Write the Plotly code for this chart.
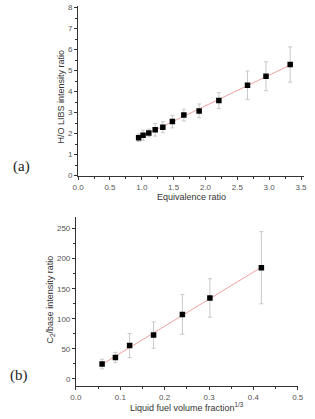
import numpy as np
import plotly.graph_objects as go

# Panel (a)
eq_ratio = [0.95, 1.02, 1.11, 1.21, 1.33, 1.48, 1.66, 1.90, 2.21, 2.66, 2.95, 3.33]
ho_ratio = [1.80, 1.92, 2.03, 2.18, 2.30, 2.57, 2.88, 3.08, 3.57, 4.30, 4.73, 5.29]
ho_err = [0.18, 0.24, 0.18, 0.30, 0.26, 0.30, 0.28, 0.33, 0.38, 0.68, 0.69, 0.84]

# Panel (b)
fuel_frac = [0.059, 0.089, 0.121, 0.175, 0.240, 0.302, 0.418]
c2_ratio = [24.6, 35.6, 55.3, 72.8, 107.2, 134.6, 184.9]
c2_err = [8, 8.5, 20, 22, 33, 32, 60]

W, H = 315, 419

fig = go.Figure()

# (a)
ka = np.polyfit(eq_ratio, ho_ratio, 1)
xa = np.array([min(eq_ratio), max(eq_ratio)])
fig.add_trace(go.Scatter(x=xa, y=np.polyval(ka, xa), mode="lines",
                         line=dict(color="#f0a0a0", width=1), xaxis="x", yaxis="y", showlegend=False))
fig.add_trace(go.Scatter(x=eq_ratio, y=ho_ratio, mode="markers",
                         marker=dict(symbol="square", size=5.5, color="black"),
                         error_y=dict(type="data", array=ho_err, color="#c8c8c8", thickness=1, width=2),
                         xaxis="x", yaxis="y", showlegend=False))

# (b)
kb = np.polyfit(fuel_frac, c2_ratio, 1)
xb = np.array([min(fuel_frac), max(fuel_frac)])
fig.add_trace(go.Scatter(x=xb, y=np.polyval(kb, xb), mode="lines",
                         line=dict(color="#f0a0a0", width=1), xaxis="x2", yaxis="y2", showlegend=False))
fig.add_trace(go.Scatter(x=fuel_frac, y=c2_ratio, mode="markers",
                         marker=dict(symbol="square", size=5.5, color="black"),
                         error_y=dict(type="data", array=c2_err, color="#c8c8c8", thickness=1, width=2),
                         xaxis="x2", yaxis="y2", showlegend=False))

tickfont = dict(family="Arial, Liberation Sans", size=8, color="#555")
axcommon = dict(showline=True, linecolor="#333", linewidth=1, ticks="outside", ticklen=3,
                tickcolor="#333", showgrid=False, zeroline=False, tickfont=tickfont,
                minor=dict(ticks="outside", ticklen=2, tickcolor="#333"))

fig.update_layout(
    width=W, height=H, margin=dict(l=0, r=0, t=0, b=0),
    plot_bgcolor="white", paper_bgcolor="white",
    xaxis=dict(domain=[75 / W, 310 / W], range=[0, 3.55], dtick=0.5, tickformat=".1f",
               anchor="y", minor_dtick=0.25, **axcommon),
    yaxis=dict(domain=[1 - 176.7 / H, 1 - 4 / H], range=[-0.03, 8.08], dtick=1,
               anchor="x", minor_dtick=0.5, **axcommon),
    xaxis2=dict(domain=[72.7 / W, 303.3 / W], range=[0, 0.5], dtick=0.1, tickformat=".1f",
                anchor="y2", minor_dtick=0.05, **axcommon),
    yaxis2=dict(domain=[1 - 390 / H, 1 - 218 / H], range=[-12.6, 269.5], dtick=50,
                anchor="x2", minor_dtick=25, **axcommon),
)

titlefont = dict(family="Arial, Liberation Sans", size=9, color="#333")
anns = [
    dict(text="Equivalence ratio", x=(75 + 310) / 2 / W, y=1 - 198 / H, textangle=0),
    dict(text="H/O LIBS intensity ratio", x=57 / W, y=1 - 96 / H, textangle=-90),
    dict(text="Liquid fuel volume fraction<sup>1/3</sup>", x=(72.7 + 303.3) / 2 / W, y=1 - 411 / H, textangle=0),
    dict(text="C<sub>2</sub>/base intensity ratio", x=46.5 / W, y=1 - 302 / H, textangle=-90),
]
for a in anns:
    fig.add_annotation(xref="paper", yref="paper", showarrow=False, font=titlefont,
                       xanchor="center", yanchor="middle", **a)
for lab, xx, yy in [("(a)", 16, 167), ("(b)", 14, 379)]:
    fig.add_annotation(text=lab, xref="paper", yref="paper", x=xx / W, y=1 - yy / H, showarrow=False,
                       font=dict(family="Liberation Serif, DejaVu Serif", size=15, color="#222"),
                       xanchor="center", yanchor="middle")

fig.write_html("out.html")
